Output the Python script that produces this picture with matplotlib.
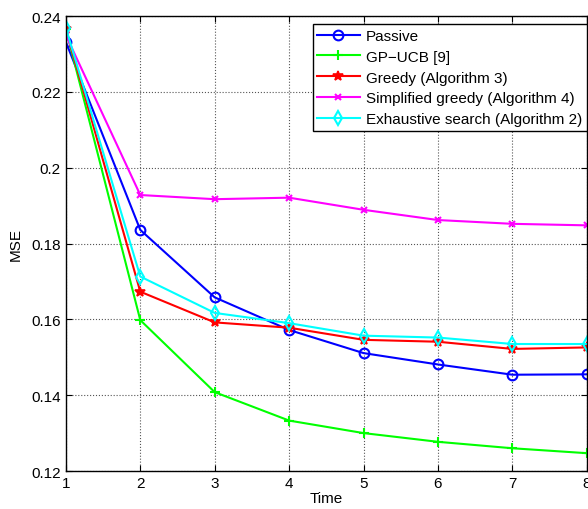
import numpy as np
import matplotlib
matplotlib.use('Agg')
import matplotlib.pyplot as plt

plt.rcParams['font.family'] = ['Liberation Sans', 'DejaVu Sans']

time = [1, 2, 3, 4, 5, 6, 7, 8]
passive = [0.2332, 0.1836, 0.1658, 0.1572, 0.1511, 0.1481, 0.1454, 0.1455]
gp_ucb = [0.2366, 0.1598, 0.1408, 0.1333, 0.1300, 0.1277, 0.1260, 0.1247]
greedy = [0.2366, 0.1673, 0.1592, 0.1578, 0.1546, 0.1541, 0.1522, 0.1526]
simp_greedy = [0.2350, 0.1928, 0.1917, 0.1921, 0.1889, 0.1862, 0.1852, 0.1848]
exhaustive = [0.2369, 0.1713, 0.1617, 0.1590, 0.1557, 0.1552, 0.1535, 0.1535]

fig = plt.figure(figsize=(5.88, 5.10), dpi=100)
ax = fig.add_axes([0.112, 0.0745, 0.886, 0.892])

lw = 1.5
ax.plot(time, passive, color='#0000ff', lw=lw, marker='o', ms=7, mfc='none', mew=1.5, label='Passive')
ax.plot(time, gp_ucb, color='#00ff00', lw=lw, marker='+', ms=7, mew=1.5, label='GP\u2212UCB [9]')
ax.plot(time, greedy, color='#ff0000', lw=lw, marker='*', ms=7, mew=1.2, label='Greedy (Algorithm 3)')
ax.plot(time, simp_greedy, color='#ff00ff', lw=lw, marker='x', ms=5, mew=1.5, label='Simplified greedy (Algorithm 4)')
ax.plot(time, exhaustive, color='#00ffff', lw=lw, marker='d', ms=7, mfc='none', mew=1.5, label='Exhaustive search (Algorithm 2)')

ax.set_xlim(1, 8)
ax.set_ylim(0.12, 0.24)
ax.set_xticks(time)
ax.set_yticks([0.12, 0.14, 0.16, 0.18, 0.2, 0.22, 0.24])
ax.set_yticklabels(['0.12', '0.14', '0.16', '0.18', '0.2', '0.22', '0.24'])
ax.tick_params(direction='in', top=True, right=True, labelsize=11, length=4)
ax.grid(True, linestyle=':', color='#555555', lw=0.8)
for s in ax.spines.values():
    s.set_linewidth(1.0)

ax.set_xlabel('Time', fontsize=11, labelpad=1)
ax.set_ylabel('MSE', fontsize=11, labelpad=6)

# legend box sits a little below the top edge and runs to the right edge, like MATLAB
leg = ax.legend(loc='upper right', bbox_to_anchor=(1.0, 0.982), fontsize=11,
                fancybox=False, framealpha=1, edgecolor='black', borderaxespad=0,
                handlelength=2.8, labelspacing=0.45, borderpad=0.3, handletextpad=0.4)
leg.get_frame().set_linewidth(1.0)

fig.savefig('out.png', dpi=100)
